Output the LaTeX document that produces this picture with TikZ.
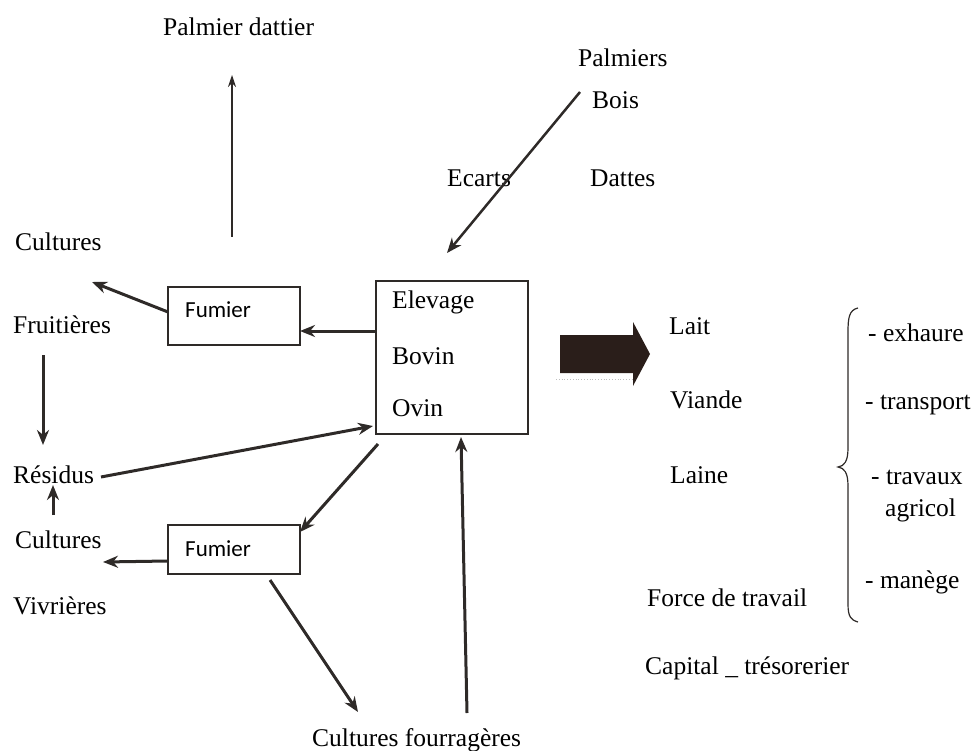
\documentclass[tikz,border=0pt]{standalone}
\usepackage{fontspec}
\setmainfont{Liberation Serif}
\newfontfamily\fumfont{Carlito}
\usetikzlibrary{arrows.meta}
\definecolor{ink}{HTML}{2E2A28}
\definecolor{blockc}{HTML}{2A1E1A}
\tikzset{
  lbl/.style={inner sep=0pt, anchor=west, font=\fontsize{25.5}{30}\selectfont, text=black},
  fumbox/.style={draw=ink, line width=1.5pt, minimum width=132pt, inner sep=0pt},
  fumtxt/.style={inner sep=0pt, anchor=west, font=\fumfont\fontsize{23}{27}\selectfont},
  thick arrow/.style={draw=ink, line width=3pt, -{Stealth[length=15pt,width=12pt]}},
  thin arrow/.style={draw=ink, line width=1.2pt, -{Stealth[length=12pt,width=8pt]}},
}
\begin{document}
\begin{tikzpicture}[x=1pt,y=-1pt]
\useasboundingbox (0,0) rectangle (974,751);
% texts
\node[lbl] (pd) at (163,27) {Palmier dattier};
\node[lbl] (palm) at (578,58) {Palmiers};
\node[lbl] (bois) at (592,100) {Bois};
\node[lbl] (ecarts) at (447,178) {Ecarts};
\node[lbl] (dattes) at (590,178) {Dattes};
\node[lbl] (cult1) at (15,242) {Cultures};
\node[lbl] (fruit) at (13,325) {Fruitières};
\node[lbl] (resid) at (13,475) {Résidus};
\node[lbl] (cult2) at (15,540) {Cultures};
\node[lbl] (vivr) at (13,606) {Vivrières};
\node[lbl] (fourr) at (312,740) {Cultures fourragères};
% boxes
\node[fumbox, minimum height=58pt] (f1) at (234,316) {};
\node[fumtxt] (f1t) at (185,310) {Fumier};
\node[fumbox, minimum height=49pt] (f2) at (234,549.5) {};
\node[fumtxt] (f2t) at (185,549) {Fumier};
\node[draw=ink, line width=1.5pt, minimum width=152pt, minimum height=153pt, inner sep=0pt] (main) at (452,357.5) {};
\node[lbl] (elev) at (392,302) {Elevage};
\node[lbl] (bov) at (392,356) {Bovin};
\node[lbl] (ovin) at (392,408) {Ovin};
% outputs
\node[lbl] (lait) at (669,326) {Lait};
\node[lbl] (viande) at (670,400) {Viande};
\node[lbl] (laine) at (670,475) {Laine};
\node[lbl] (force) at (647,598) {Force de travail};
\node[lbl] (capital) at (645,668) {Capital \_ trésorerier};
\node[lbl] (exh) at (868,333) {- exhaure};
\node[lbl] (transp) at (865,405) {- transport};
\node[lbl] (trav) at (871,477) {- travaux};
\node[lbl] (agric) at (885,510) {agricol};
\node[lbl] (maneg) at (865,582) {- manège};
% coordinates
\coordinate (pdA) at (232,237);
\coordinate (pdB) at (232,75);
\coordinate (boisA) at (580,92);
\coordinate (boisB) at (447,253);
\coordinate (f1L) at (168,312);
\coordinate (cult1B) at (92,282);
\coordinate (mainL1) at (376,331);
\coordinate (f1R) at (300,331);
\coordinate (fruitA) at (43,355);
\coordinate (fruitB) at (43,445);
\coordinate (residA) at (101,477);
\coordinate (mainL2) at (373,426);
\coordinate (cult2A) at (53,515);
\coordinate (cult2B) at (53,485);
\coordinate (mainBL) at (378,444);
\coordinate (f2TR) at (300,532);
\coordinate (f2L) at (168,561);
\coordinate (cult2R) at (103,562);
\coordinate (f2B) at (270,580);
\coordinate (fourrT) at (358,712);
\coordinate (fourrA) at (467,713);
\coordinate (mainB) at (461,437);
% connectors
\draw[thin arrow] (pdA) -- (pdB);
\draw[thick arrow, line width=2.5pt] (boisA) -- (boisB);
\draw[thick arrow] (f1L) -- (cult1B);
\draw[thick arrow] (mainL1) -- (f1R);
\draw[thick arrow] (fruitA) -- (fruitB);
\draw[thick arrow] (residA) -- (mainL2);
\draw[thick arrow] (cult2A) -- (cult2B);
\draw[thick arrow] (mainBL) -- (f2TR);
\draw[thick arrow] (f2L) -- (cult2R);
\draw[thick arrow] (f2B) -- (fourrT);
\draw[thick arrow] (fourrA) -- (mainB);
% block arrow
\fill[blockc] (560,335) -- (633,335) -- (633,322) -- (650,354) -- (633,386) -- (633,373) -- (560,373) -- cycle;
\draw[gray!50, line width=0.8pt, dotted] (556,379) -- (633,379);
% brace
\draw[ink, line width=1.2pt] (858,308) .. controls (849,310) and (848,318) .. (848,332) -- (848,448)
  .. controls (848,462) and (844,466) .. (838,467)
  .. controls (844,468) and (848,472) .. (848,486) -- (848,604)
  .. controls (848,617) and (851,620) .. (858,622);
\end{tikzpicture}
\end{document}
